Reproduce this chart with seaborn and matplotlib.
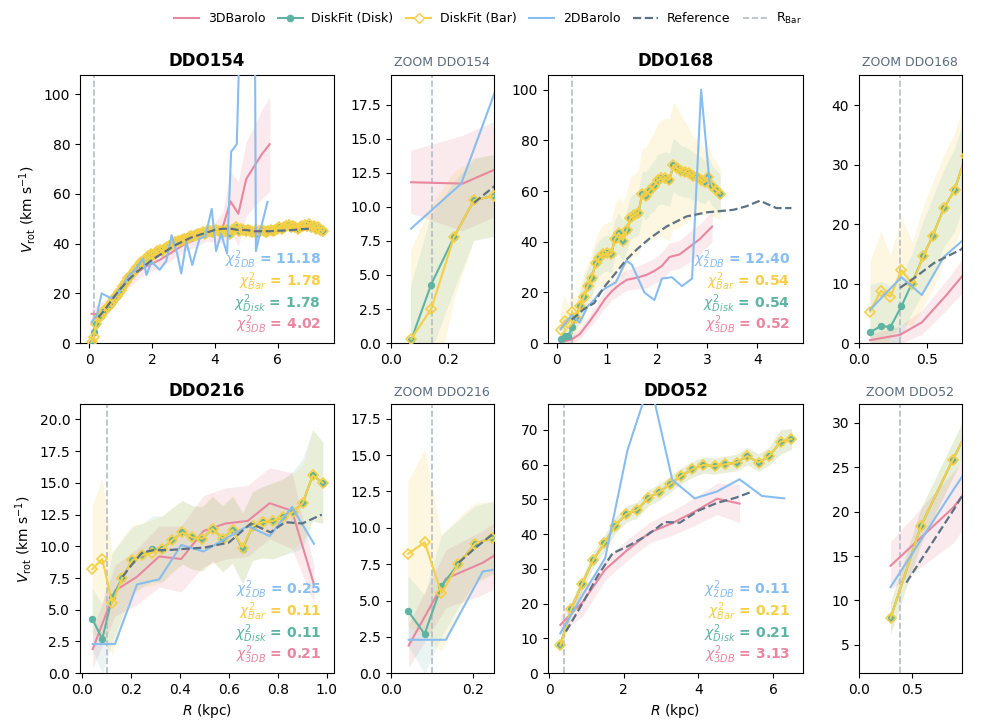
import numpy as np
import matplotlib
matplotlib.use("Agg")
import matplotlib.pyplot as plt
import seaborn as sns
from matplotlib.lines import Line2D

C_3DB = "#e8879f"
C_DISK = "#5fb3a3"
C_BAR = "#f5cf45"
C_2DB = "#88bdf0"
C_REF = "#5d7283"
C_RBAR = "#b4bcc4"

# ---------------- DDO154 ----------------
r_df154 = [0.07, 0.14, 0.22, 0.29, 0.36, 0.43, 0.51, 0.58, 0.65, 0.72,
           0.79, 0.87, 0.94, 1.01, 1.08, 1.16, 1.23, 1.30, 1.37, 1.44,
           1.52, 1.59, 1.66, 1.73, 1.81, 1.88, 1.95, 2.02, 2.09, 2.17,
           2.24, 2.31, 2.38, 2.46, 2.53, 2.60, 2.67, 2.74, 2.82, 2.89,
           2.96, 3.03, 3.11, 3.18, 3.25, 3.32, 3.39, 3.47, 3.54, 3.61,
           3.68, 3.75, 3.83, 3.90, 3.97, 4.04, 4.12, 4.19, 4.26, 4.33,
           4.40, 4.48, 4.55, 4.62, 4.69, 4.77, 4.84, 4.91, 4.98, 5.05,
           5.13, 5.20, 5.27, 5.34, 5.42, 5.49, 5.56, 5.63, 5.70, 5.78,
           5.85, 5.92, 5.99, 6.06, 6.14, 6.21, 6.28, 6.35, 6.43, 6.50,
           6.57, 6.64, 6.71, 6.79, 6.86, 6.93, 7.00, 7.08, 7.15, 7.22,
           7.29, 7.36, 7.44]
v_dfbar154 = [0.3, 2.5, 7.8, 10.5, 10.8, 12.5, 13.5, 14.5, 15.5, 16.5,
              18, 19, 20.5, 21.5, 23, 24.5, 26, 27, 28, 29.5,
              30.5, 31, 32.5, 33.5, 34, 35, 36, 35.5, 36, 37,
              37.5, 37, 38, 38.5, 39, 39.5, 40, 40.5, 41, 41,
              41.5, 42, 42, 42.5, 43, 43, 43.5, 44, 44, 44.5,
              44, 45, 45, 44.5, 45, 45.5, 45, 45, 44.5, 45,
              45.5, 44, 45.5, 46, 46.5, 45, 46, 45.5, 45, 45.5,
              45, 44.5, 45, 44, 45, 45.5, 45, 44.5, 45, 45.5,
              45, 45.5, 46, 46.5, 46, 46.5, 47, 47.5, 46.5, 47,
              46.5, 46, 46.5, 47, 47.5, 47, 48, 46.5, 47, 46,
              46.5, 45.5, 45]
v_dfdisk154 = [0.2, 4.3] + v_dfbar154[2:]
e_dfbar154 = [6.5, 7.5, 4.7, 3.0, 3.0] + [2.0] * 98
e_dfdisk154 = [4.0, 5.0, 4.0, 3.0, 3.0] + [2.0] * 98
r_3db154 = [0.07, 0.25, 0.5, 0.75, 1.0, 1.25, 1.5, 1.75, 2.0, 2.25, 2.5, 2.75,
            3.0, 3.25, 3.5, 3.75, 4.0, 4.25, 4.5, 4.75, 5.0, 5.25, 5.5, 5.75]
v_3db154 = [11.8, 11.7, 14, 17.5, 21, 25, 28, 30.5, 32, 33.5, 35.5, 37.5,
            39.5, 41, 42.5, 44, 44.5, 46.5, 57, 52, 66, 71, 76, 80]
e_3db154 = [2.3, 3.5, 3.5, 3, 3, 3, 3, 3, 3, 3, 3, 3,
            3, 3, 3, 3, 4, 6, 12, 13, 15, 16, 18, 19]
r_2db154 = [0.07, 0.245, 0.39, 0.7, 1.0, 1.25, 1.5, 1.71, 1.82, 1.98, 2.24, 2.45,
            2.62, 2.8, 2.93, 3.09, 3.28, 3.51, 3.7, 3.9, 4.04, 4.2, 4.39, 4.52,
            4.7, 4.85, 5.27, 5.31, 5.52, 5.68]
v_2db154 = [8.4, 11.7, 20, 18, 21.5, 27, 30, 34, 27.4, 32.7, 29.5, 33,
            43.4, 36, 28, 40.8, 31.4, 42, 43, 54, 37, 44, 36, 77,
            80, 150, 150, 37, 48.8, 56.8]
r_ref154 = [0.29, 0.36, 0.5, 0.75, 1.0, 1.25, 1.5, 1.75, 2.0, 2.25, 2.5, 2.75,
            3.0, 3.25, 3.5, 3.75, 4.0, 4.25, 4.5, 4.75, 5.0, 5.25, 5.5, 5.75,
            6.0, 6.25, 6.5, 6.75, 7.0]
v_ref154 = [10.3, 11.5, 13.5, 18, 22, 25.5, 28.5, 31, 33.5, 35.5, 37.5, 39.5,
            41, 42.5, 43.5, 44.5, 45.5, 46, 46, 45.5, 45.5, 45, 45, 45,
            45.2, 45.3, 45.5, 45.8, 46]
rbar154 = 0.143
chi154 = ["11.18", "1.78", "1.78", "4.02"]

# ---------------- DDO168 ----------------
r_df168 = [0.08, 0.16, 0.23, 0.31, 0.39, 0.47, 0.54, 0.62, 0.70, 0.78,
           0.85, 0.93, 1.01, 1.09, 1.16, 1.24, 1.32, 1.40, 1.47, 1.55,
           1.63, 1.71, 1.78, 1.86, 1.94, 2.02, 2.09, 2.17, 2.25, 2.33,
           2.40, 2.48, 2.56, 2.64, 2.71, 2.79, 2.87, 2.95, 3.02, 3.10,
           3.18, 3.26]
v_dfbar168 = [5.3, 8.8, 7.8, 12.3, 10.0, 14.6, 18.1, 22.7, 25.8, 31.5,
              33.5, 35.0, 35.5, 35.0, 41.0, 43.5, 40.5, 44.5, 49.5, 50.5,
              51.5, 59.0, 58.0, 60.5, 62.0, 64.5, 65.0, 65.0, 64.5, 70.3,
              69.0, 68.0, 67.5, 67.0, 66.0, 65.5, 64.5, 63.5, 65.5, 62.0,
              60.5, 59.0]
v_dfdisk168 = [1.8, 2.9, 2.7, 6.2, 10.2] + v_dfbar168[5:]
e_dfbar168 = [8.5, 10, 7, 9, 7, 8.5, 9, 9, 9.5, 10,
              11, 12, 12, 13, 14, 14, 15, 15, 16, 16,
              17, 18, 19, 20, 21, 22, 23, 24, 24, 25,
              24, 22, 20, 18, 16, 15, 14, 13, 13, 12,
              11, 10]
e_dfdisk168 = [8, 7.5, 7, 5, 5, 6, 6.5, 6.5, 7, 7,
               7, 7, 7, 7.5, 7.5, 8, 8, 8, 8.5, 8.5,
               9, 9, 9.5, 9.5, 10, 10, 10, 10.5, 10.5, 10.5,
               10.5, 10, 10, 9.5, 9.5, 9, 9, 8.5, 8.5, 8,
               8, 7.5]
r_3db168 = [0.08, 0.3, 0.46, 0.64, 0.8, 0.95, 1.1, 1.25, 1.4, 1.6, 1.8, 1.95,
            2.1, 2.25, 2.45, 2.65, 2.85, 3.1]
v_3db168 = [0.5, 1.4, 3.5, 8.1, 12.5, 17, 20.5, 23, 25, 25.8, 27, 28.5,
            30.5, 34, 35, 38, 41, 46]
e_3db168 = [1.0, 1.5, 2.0, 2.5, 3, 3.5, 3.5, 4, 4, 4.5, 5, 5,
            5.5, 5.5, 5.5, 6, 6, 6]
r_2db168 = [0.08, 0.31, 0.46, 0.62, 0.75, 0.86, 1.0, 1.18, 1.39, 1.5, 1.75, 1.95,
            2.1, 2.3, 2.5, 2.7, 2.88, 3.05]
v_2db168 = [5.6, 11.1, 8.1, 14.5, 17.1, 20, 22, 24, 32.5, 31, 20, 17,
            25.5, 26, 22.5, 25.5, 100, 63]
r_ref168 = [0.3, 0.4, 0.55, 0.75, 0.93, 1.15, 1.39, 1.6, 1.86, 2.19, 2.59, 2.99,
            3.52, 3.78, 4.05, 4.38, 4.68]
v_ref168 = [9.3, 10.9, 13.5, 15.8, 21.7, 27, 32.9, 37, 41.4, 46, 50, 51.6,
            52.6, 54, 56.2, 53.3, 53.3]
rbar168 = 0.3
chi168 = ["12.40", "0.54", "0.54", "0.52"]

# ---------------- DDO216 ----------------
r_df216 = [0.041, 0.082, 0.123, 0.164, 0.205, 0.246, 0.287, 0.328, 0.369, 0.41,
           0.451, 0.492, 0.533, 0.574, 0.615, 0.656, 0.697, 0.738, 0.779, 0.82,
           0.861, 0.902, 0.943, 0.984]
v_dfbar216 = [8.2, 9.0, 5.5, 7.5, 8.9, 9.3, 9.5, 9.8, 10.5, 11.1,
              10.7, 10.6, 11.4, 10.6, 11.3, 9.9, 11.6, 11.9, 12.0, 12.3,
              12.7, 13.4, 15.6, 15.0]
v_dfdisk216 = [4.3, 2.7, 6.0, 7.5, 8.9, 9.3, 9.8, 9.8, 10.5, 11.1,
               10.7, 10.6, 11.4, 10.6, 11.3, 9.8, 11.6, 11.9, 12.0, 12.3,
               12.7, 13.4, 15.6, 15.0]
e_dfbar216 = [5.0, 6.4, 4.0, 3.2, 2.8, 2.5, 2.6, 2.6, 2.6, 2.5,
              2.5, 2.6, 2.6, 2.6, 2.7, 2.8, 2.7, 2.8, 3.0, 3.0,
              3.0, 3.0, 3.6, 3.2]
e_dfdisk216 = [2.4, 2.7, 3.5, 3.0, 2.6, 2.5, 2.6, 2.6, 2.5, 2.5,
               2.5, 2.5, 2.5, 2.6, 2.6, 2.8, 2.7, 2.8, 3.0, 3.0,
               3.2, 3.5, 3.6, 3.2]
r_3db216 = [0.043, 0.134, 0.224, 0.315, 0.405, 0.496, 0.586, 0.677, 0.767, 0.858, 0.948]
v_3db216 = [1.9, 6.5, 7.6, 9.2, 9.0, 11.2, 11.8, 12.0, 13.4, 12.8, 7.0]
e_3db216 = [1.5, 2.0, 2.2, 2.4, 2.6, 2.8, 2.8, 2.8, 2.8, 3.0, 1.5]
r_2db216 = [0.043, 0.134, 0.224, 0.315, 0.405, 0.496, 0.586, 0.677, 0.767, 0.858, 0.948]
v_2db216 = [2.3, 2.3, 7.0, 7.4, 10.1, 9.6, 10.6, 11.6, 10.8, 13.1, 10.2]
r_ref216 = [0.165, 0.205, 0.245, 0.29, 0.35, 0.42, 0.5, 0.6, 0.69, 0.77, 0.83, 0.9, 0.98]
v_ref216 = [7.6, 8.6, 9.5, 9.7, 9.7, 9.8, 9.9, 10.3, 11.8, 11.1, 11.9, 11.8, 12.5]
rbar216 = 0.1
chi216 = ["0.25", "0.11", "0.11", "0.21"]

# ---------------- DDO52 ----------------
r_df52 = [0.30, 0.59, 0.89, 1.18, 1.48, 1.77, 2.07, 2.36, 2.66, 2.95, 3.25,
          3.54, 3.84, 4.13, 4.43, 4.72, 5.02, 5.31, 5.61, 5.90, 6.20, 6.49]
v_dfbar52 = [8.0, 18.4, 25.8, 32.6, 37.4, 42.5, 45.8, 47.0, 50.5, 52.1, 54.5,
             56.8, 58.7, 59.9, 59.6, 60.1, 60.6, 62.5, 60.6, 62.5, 66.6, 67.4]
v_dfdisk52 = list(v_dfbar52)
e_df52 = [1.8, 2.0, 2.0, 2.2, 2.2, 2.3, 2.3, 2.3, 2.3, 2.3, 2.3,
          2.3, 2.3, 2.3, 2.3, 2.3, 2.4, 2.5, 2.5, 2.6, 3.5, 3.0]
r_3db52 = [0.30, 0.90, 1.50, 2.10, 2.70, 3.30, 3.90, 4.50, 5.10]
v_3db52 = [13.9, 20.5, 29.8, 35.5, 40.5, 43.2, 46.5, 50.2, 48.8]
e_3db52 = [2.7, 4.0, 3.0, 3.0, 3.0, 3.5, 4.0, 4.5, 5.5]
r_2db52 = [0.30, 0.90, 1.50, 2.10, 2.70, 3.30, 3.90, 4.50, 5.10, 5.70, 6.30]
v_2db52 = [11.5, 22.5, 33.1, 64.2, 84.0, 55.6, 50.3, 52.3, 55.8, 51.0, 50.3]
r_ref52 = [0.45, 0.9, 1.3, 1.7, 2.1, 2.6, 3.1, 3.5, 4.0, 4.5, 5.0, 5.45]
v_ref52 = [12.0, 20.2, 28.0, 34.5, 36.5, 39.5, 43.5, 43.3, 46.8, 49.0, 50.5, 52.3]
rbar52 = 0.39
chi52 = ["0.11", "0.21", "0.21", "3.13"]

galaxies = [
    dict(name="DDO154", r_df=r_df154, v_bar=v_dfbar154, v_disk=v_dfdisk154,
         e_bar=e_dfbar154, e_disk=e_dfdisk154, r_3db=r_3db154, v_3db=v_3db154,
         e_3db=e_3db154, r_2db=r_2db154, v_2db=v_2db154, r_ref=r_ref154,
         v_ref=v_ref154, rbar=rbar154, chi=chi154,
         xlim=(-0.3, 7.8), ylim=(0, 108), zylim=(0, 19.7)),
    dict(name="DDO168", r_df=r_df168, v_bar=v_dfbar168, v_disk=v_dfdisk168,
         e_bar=e_dfbar168, e_disk=e_dfdisk168, r_3db=r_3db168, v_3db=v_3db168,
         e_3db=e_3db168, r_2db=r_2db168, v_2db=v_2db168, r_ref=r_ref168,
         v_ref=v_ref168, rbar=rbar168, chi=chi168,
         xlim=(-0.17, 4.91), ylim=(0, 106), zylim=(0, 45.2)),
    dict(name="DDO216", r_df=r_df216, v_bar=v_dfbar216, v_disk=v_dfdisk216,
         e_bar=e_dfbar216, e_disk=e_dfdisk216, r_3db=r_3db216, v_3db=v_3db216,
         e_3db=e_3db216, r_2db=r_2db216, v_2db=v_2db216, r_ref=r_ref216,
         v_ref=v_ref216, rbar=rbar216, chi=chi216,
         xlim=(-0.009, 1.03), ylim=(0, 21.2), zylim=(0, 18.5)),
    dict(name="DDO52", r_df=r_df52, v_bar=v_dfbar52, v_disk=v_dfdisk52,
         e_bar=e_df52, e_disk=e_df52, r_3db=r_3db52, v_3db=v_3db52,
         e_3db=e_3db52, r_2db=r_2db52, v_2db=v_2db52, r_ref=r_ref52,
         v_ref=v_ref52, rbar=rbar52, chi=chi52,
         xlim=(-0.03, 6.8), ylim=(0, 77.4), zylim=(1.8, 32.1)),
]


def band(ax, x, y, e, color, alpha):
    y = np.asarray(y, float)
    e = np.asarray(e, float)
    ax.fill_between(x, y - e, y + e, color=color, alpha=alpha, lw=0, zorder=1)


def line(ax, x, y, **kw):
    sns.lineplot(x=x, y=y, ax=ax, estimator=None, sort=False, legend=False, **kw)


def draw(ax, g):
    band(ax, g["r_3db"], g["v_3db"], g["e_3db"], C_3DB, 0.18)
    band(ax, g["r_df"], g["v_bar"], g["e_bar"], C_BAR, 0.16)
    band(ax, g["r_df"], g["v_disk"], g["e_disk"], C_DISK, 0.13)
    ax.axvline(g["rbar"], color=C_RBAR, ls="--", lw=1.2, zorder=1.5)
    line(ax, g["r_3db"], g["v_3db"], color=C_3DB, lw=1.5, zorder=2)
    line(ax, g["r_df"], g["v_disk"], color=C_DISK, lw=1.5, marker="o",
         markersize=4.5, markerfacecolor=C_DISK, markeredgecolor=C_DISK,
         markeredgewidth=0.8, zorder=3)
    line(ax, g["r_df"], g["v_bar"], color=C_BAR, lw=1.5, marker="D",
         markersize=5.5, markerfacecolor="none", markeredgecolor=C_BAR,
         markeredgewidth=1.2, zorder=4)
    line(ax, g["r_2db"], g["v_2db"], color=C_2DB, lw=1.5, zorder=4.5)
    line(ax, g["r_ref"], g["v_ref"], color=C_REF, lw=1.6, ls="--", zorder=5)
    ax.set_xlabel("")
    ax.set_ylabel("")


fig = plt.figure(figsize=(10, 7.27), dpi=100)

cols = [(0.080, 0.254), (0.391, 0.1025), (0.548, 0.255), (0.859, 0.1025)]
rows = [(0.528, 0.3695), (0.074, 0.370)]

chi_names = [r"$\chi^2_{2DB}$", r"$\chi^2_{Bar}$", r"$\chi^2_{Disk}$", r"$\chi^2_{3DB}$"]
chi_cols = [C_2DB, C_BAR, C_DISK, C_3DB]
chi_y = [0.31, 0.23, 0.147, 0.068]

for i, g in enumerate(galaxies):
    row = i // 2
    c = (i % 2) * 2
    b, h = rows[row]
    ax = fig.add_axes([cols[c][0], b, cols[c][1], h])
    axz = fig.add_axes([cols[c + 1][0], b, cols[c + 1][1], h])

    draw(ax, g)
    ax.set_xlim(*g["xlim"])
    ax.set_ylim(*g["ylim"])
    ax.set_title(g["name"], fontsize=12, fontweight="bold")
    for name, val, col, yy in zip(chi_names, g["chi"], chi_cols, chi_y):
        ax.text(0.95, yy, f"{name} = {val}", transform=ax.transAxes, ha="right",
                va="center", color=col, fontsize=10, fontweight="bold", zorder=6)
    if c == 0:
        ax.set_ylabel(r"$V_{\rm rot}$ (km s$^{-1}$)", fontsize=10)
    if row == 1:
        ax.set_xlabel(r"$R$ (kpc)", fontsize=10)

    draw(axz, g)
    axz.set_xlim(0, 2.5 * g["rbar"])
    axz.set_ylim(*g["zylim"])
    axz.set_title("ZOOM " + g["name"], fontsize=9, color="#5a6b7b")

handles = [
    Line2D([], [], color=C_3DB, lw=1.5),
    Line2D([], [], color=C_DISK, lw=1.5, marker="o", ms=4.5),
    Line2D([], [], color=C_BAR, lw=1.5, marker="D", ms=5, mfc="white", mec=C_BAR),
    Line2D([], [], color=C_2DB, lw=1.5),
    Line2D([], [], color=C_REF, lw=1.6, ls="--"),
    Line2D([], [], color=C_RBAR, lw=1.2, ls="--"),
]
labels = ["3DBarolo", "DiskFit (Disk)", "DiskFit (Bar)", "2DBarolo", "Reference",
          r"R$_{\rm Bar}$"]
fig.legend(handles, labels, loc="upper center", bbox_to_anchor=(0.488, 1.0),
           ncol=6, frameon=False, fontsize=9, columnspacing=1.0,
           handletextpad=0.7)

fig.savefig("out.png", dpi=100)
